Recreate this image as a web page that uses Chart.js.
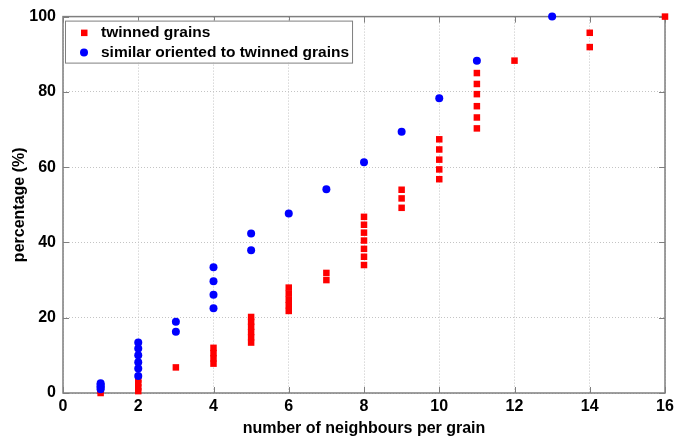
<!DOCTYPE html>
<html>
<head>
<meta charset="utf-8">
<script src="https://cdn.jsdelivr.net/npm/chart.js@4.4.0/dist/chart.umd.min.js"></script>
<style>
    html, body { margin: 0; padding: 0; background: #fff; }
</style>
</head>
<body>
<canvas id="vecinos" width="690" height="440"></canvas>
<script>
// number of neighbours per grain (x positions of each column)
var neighbourCounts = [1, 2, 3, 4, 5, 6, 7, 8, 9, 10, 11, 12, 13, 14, 15, 16];

// percentages read per column, same order as neighbourCounts
var twinnedPercent = [
    [0, 0.6],
    [0.5, 1.5, 2.6, 3.6],
    [6.8],
    [7.8, 9.2, 10.6, 12.0],
    [13.4, 14.8, 16.2, 17.6, 18.9, 20.2],
    [21.8, 23.3, 24.8, 26.4, 28.0],
    [30.0, 31.9],
    [34.0, 36.2, 38.3, 40.5, 42.6, 44.7, 46.8],
    [49.2, 51.7, 54.0],
    [56.8, 59.4, 62.0, 64.7, 67.4],
    [70.3, 73.2, 76.2, 79.4, 82.1, 85.0],
    [88.3],
    [],
    [91.9, 95.7],
    [],
    [100]
];

var similarPercent = [
    [1.0, 1.4, 1.8, 2.2, 2.6],
    [4.5, 6.5, 8.2, 10.0, 11.8, 13.4],
    [16.3, 18.9],
    [22.5, 26.1, 29.7, 33.4],
    [37.9, 42.4],
    [47.7],
    [54.1],
    [61.3],
    [69.4],
    [78.3],
    [88.3],
    [],
    [100],
    [],
    [],
    []
];

var xTicks = [0, 2, 4, 6, 8, 10, 12, 14, 16];
var yTicks = [0, 20, 40, 60, 80, 100];

var fuente = "'Liberation Sans', Arial, Helvetica, sans-serif";

function aPuntos(columnas) {
    var puntos = [];
    columnas.forEach(function (valores, i) {
        valores.forEach(function (v) {
            puntos.push({x: neighbourCounts[i], y: v});
        });
    });
    return puntos;
}

// marco gris con marcas de escala hacia adentro (estilo MATLAB)
var marcoPlugin = {
    id: 'marco',
    beforeDatasetsDraw: function (chart) {
        var ctx = chart.ctx;
        var a = chart.chartArea;
        var sx = chart.scales.x;
        var sy = chart.scales.y;
        ctx.save();
        ctx.strokeStyle = '#7f7f7f';
        ctx.lineWidth = 1.5;
        ctx.strokeRect(a.left, a.top, a.right - a.left, a.bottom - a.top);
        ctx.beginPath();
        xTicks.forEach(function (v) {
            var px = Math.round(sx.getPixelForValue(v)) + 0.5;
            ctx.moveTo(px, a.bottom);
            ctx.lineTo(px, a.bottom - 6);
            ctx.moveTo(px, a.top);
            ctx.lineTo(px, a.top + 6);
        });
        yTicks.forEach(function (v) {
            var py = Math.round(sy.getPixelForValue(v)) + 0.5;
            ctx.moveTo(a.left, py);
            ctx.lineTo(a.left + 6, py);
            ctx.moveTo(a.right, py);
            ctx.lineTo(a.right - 6, py);
        });
        ctx.lineWidth = 1;
        ctx.stroke();
        ctx.restore();
    },
    afterDatasetsDraw: function (chart) {
        // leyenda dentro del area, arriba a la izquierda
        var ctx = chart.ctx;
        var a = chart.chartArea;
        var sets = chart.data.datasets;
        ctx.save();
        ctx.font = 'bold 15.5px ' + fuente;
        var ancho = 0;
        sets.forEach(function (d) {
            ancho = Math.max(ancho, ctx.measureText(d.label).width);
        });
        var bx = a.left + 2, by = a.top + 4;
        var bw = 36 + ancho + 3, bh = 42;
        ctx.fillStyle = '#fff';
        ctx.fillRect(bx, by, bw, bh);
        ctx.strokeStyle = '#7f7f7f';
        ctx.lineWidth = 1;
        ctx.strokeRect(bx + 0.5, by + 0.5, bw, bh);
        sets.forEach(function (d, i) {
            var cy = by + 12 + i * 20;
            ctx.fillStyle = d.backgroundColor;
            if (d.pointStyle === 'rect') {
                ctx.fillRect(bx + 16, cy - 3, 6.5, 6.5);
            } else {
                ctx.beginPath();
                ctx.arc(bx + 19, cy, 4, 0, Math.PI * 2);
                ctx.fill();
            }
            ctx.fillStyle = '#000';
            ctx.textBaseline = 'middle';
            ctx.fillText(d.label, bx + 36, cy);
        });
        ctx.restore();
    }
};

var ctx = document.getElementById('vecinos');
new Chart(ctx, {
    type: 'scatter',
    data: {
        datasets: [{
            label: 'twinned grains',
            data: aPuntos(twinnedPercent),
            pointStyle: 'rect',
            pointRadius: 4.6,
            backgroundColor: '#ff0000',
            borderWidth: 0,
            clip: false,
            order: 2
        }, {
            label: 'similar oriented to twinned grains',
            data: aPuntos(similarPercent),
            pointStyle: 'circle',
            pointRadius: 4,
            backgroundColor: '#0000ff',
            borderWidth: 0,
            clip: false,
            order: 1
        }]
    },
    options: {
        responsive: false,
        animation: false,
        layout: {
            padding: {left: 0, right: 25, top: 13, bottom: 0}
        },
        plugins: {
            legend: {display: false},
            tooltip: {enabled: false}
        },
        scales: {
            x: {
                type: 'linear',
                min: 0,
                max: 16,
                afterFit: function (scale) { scale.height = 47; },
                ticks: {
                    stepSize: 2,
                    maxRotation: 0,
                    padding: 4,
                    color: '#000',
                    font: {family: fuente, size: 16, weight: 'bold'}
                },
                grid: {color: '#c4c4c4', drawTicks: false},
                border: {display: false, dash: [1, 2]},
                title: {
                    display: true,
                    text: 'number of neighbours per grain',
                    color: '#000',
                    font: {family: fuente, size: 16, weight: 'bold'},
                    padding: {top: 0, bottom: 2}
                }
            },
            y: {
                type: 'linear',
                min: 0,
                max: 100,
                afterFit: function (scale) { scale.width = 63; },
                ticks: {
                    stepSize: 20,
                    padding: 7,
                    color: '#000',
                    font: {family: fuente, size: 16, weight: 'bold'}
                },
                grid: {color: '#c4c4c4', drawTicks: false},
                border: {display: false, dash: [1, 2]},
                title: {
                    display: true,
                    text: 'percentage (%)',
                    color: '#000',
                    font: {family: fuente, size: 16, weight: 'bold'},
                    padding: {top: 10, bottom: 0}
                }
            }
        }
    },
    plugins: [marcoPlugin]
});
</script>
</body>
</html>
